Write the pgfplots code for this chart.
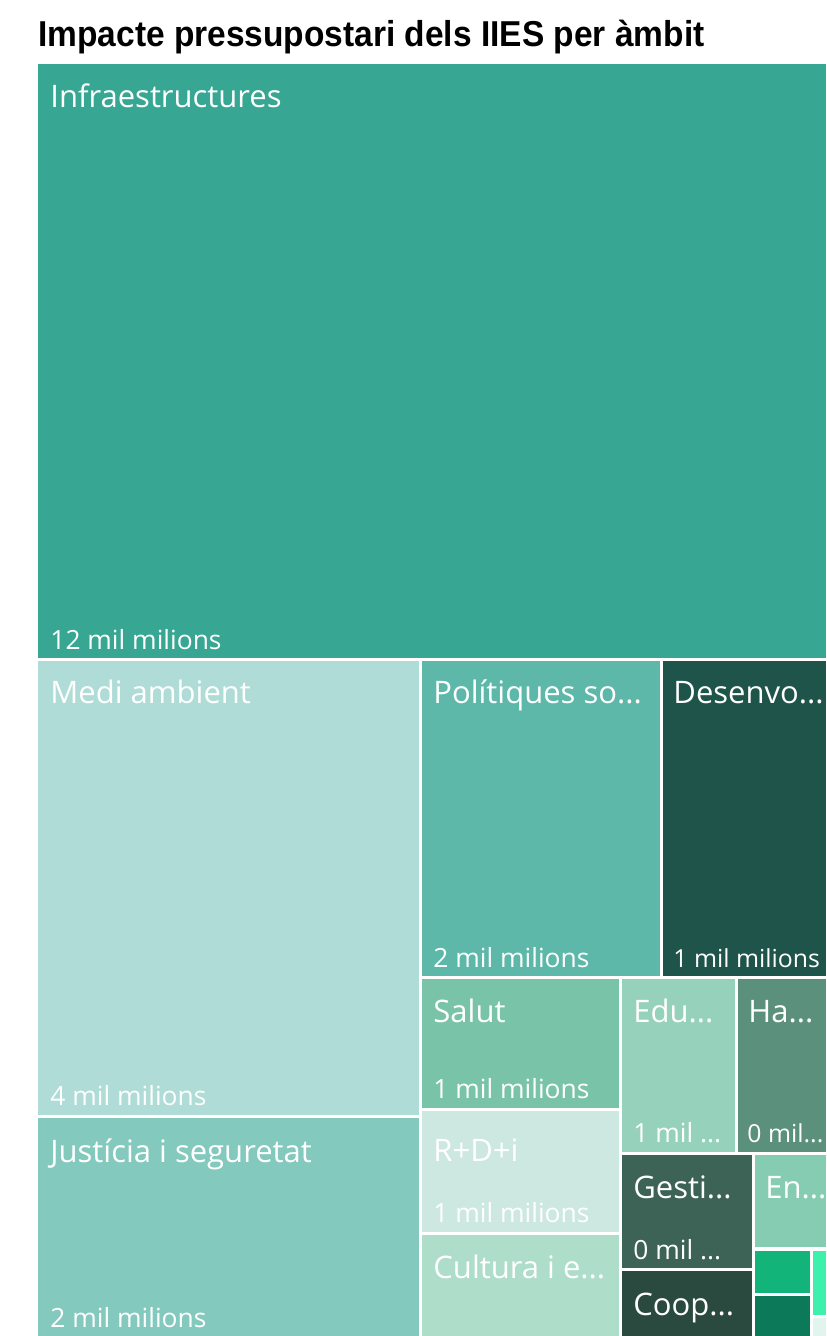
\documentclass[border=0pt]{standalone}
\usepackage{pgfplots}
\pgfplotsset{compat=1.18}
\usepackage{fontspec}
\setmainfont{Open Sans}
\newfontfamily\titlefont[FakeStretch=0.93]{Liberation Sans}
\definecolor{cInfra}{HTML}{37A794}
\definecolor{cMedi}{HTML}{AFDCD6}
\definecolor{cJust}{HTML}{84C9BE}
\definecolor{cPol}{HTML}{5DB8A9}
\definecolor{cDes}{HTML}{1E544A}
\definecolor{cSal}{HTML}{79C4A8}
\definecolor{cEdu}{HTML}{96D1BB}
\definecolor{cHa}{HTML}{5B907C}
\definecolor{cRDI}{HTML}{CCE8E0}
\definecolor{cCul}{HTML}{AEDDCA}
\definecolor{cGes}{HTML}{3C6355}
\definecolor{cCoop}{HTML}{2B4A3F}
\definecolor{cEn}{HTML}{86CCB2}
\definecolor{cG1}{HTML}{13B479}
\definecolor{cG2}{HTML}{0C7A59}
\definecolor{cG3}{HTML}{3DF0AB}
\definecolor{cG4}{HTML}{E1F5EE}
\begin{document}
\begin{tikzpicture}
\begin{axis}[x=0.5pt, y=0.5pt, y dir=reverse, xmin=0, xmax=826, ymin=0, ymax=1336,
  hide axis, clip=false, scale only axis]
\addplot[fill=cInfra, draw=none] coordinates {(38,64) (826,64) (826,658) (38,658)} --cycle;
\addplot[fill=cMedi, draw=none] coordinates {(38,661) (419,661) (419,1115) (38,1115)} --cycle;
\addplot[fill=cJust, draw=none] coordinates {(38,1118) (419,1118) (419,1336) (38,1336)} --cycle;
\addplot[fill=cPol, draw=none] coordinates {(422,661) (660,661) (660,976) (422,976)} --cycle;
\addplot[fill=cDes, draw=none] coordinates {(663,661) (826,661) (826,976) (663,976)} --cycle;
\addplot[fill=cSal, draw=none] coordinates {(422,979) (619,979) (619,1108) (422,1108)} --cycle;
\addplot[fill=cEdu, draw=none] coordinates {(622,979) (735,979) (735,1152) (622,1152)} --cycle;
\addplot[fill=cHa, draw=none] coordinates {(738,979) (826,979) (826,1152) (738,1152)} --cycle;
\addplot[fill=cRDI, draw=none] coordinates {(422,1111) (619,1111) (619,1232) (422,1232)} --cycle;
\addplot[fill=cCul, draw=none] coordinates {(422,1235) (619,1235) (619,1336) (422,1336)} --cycle;
\addplot[fill=cGes, draw=none] coordinates {(622,1155) (752,1155) (752,1268) (622,1268)} --cycle;
\addplot[fill=cCoop, draw=none] coordinates {(622,1271) (752,1271) (752,1336) (622,1336)} --cycle;
\addplot[fill=cEn, draw=none] coordinates {(755,1155) (826,1155) (826,1247) (755,1247)} --cycle;
\addplot[fill=cG1, draw=none] coordinates {(755,1251) (810,1251) (810,1293) (755,1293)} --cycle;
\addplot[fill=cG2, draw=none] coordinates {(755,1296) (810,1296) (810,1336) (755,1336)} --cycle;
\addplot[fill=cG3, draw=none] coordinates {(813,1251) (826,1251) (826,1315) (813,1315)} --cycle;
\addplot[fill=cG4, draw=none] coordinates {(813,1318) (826,1318) (826,1336) (813,1336)} --cycle;

\node[anchor=base west, inner sep=0pt, font=\titlefont\bfseries\fontsize{18}{18}\selectfont] at (axis cs:38,47) {Impacte pressupostari dels IIES per àmbit};

\tikzset{nm/.style={anchor=base west, inner sep=0pt, text=white, font=\fontsize{15.5}{16}\selectfont},
         vl/.style={anchor=base west, inner sep=0pt, text=white, font=\fontsize{13.2}{14}\selectfont}}
\node[nm] at (axis cs:50,108) {Infraestructures};
\node[vl] at (axis cs:50,649) {12 mil milions};
\node[nm] at (axis cs:50,703) {Medi ambient};
\node[vl] at (axis cs:50,1105) {4 mil milions};
\node[nm] at (axis cs:50,1162) {Justícia i seguretat};
\node[vl] at (axis cs:50,1327) {2 mil milions};
\node[nm] at (axis cs:433,703) {Polítiques so...};
\node[vl] at (axis cs:433,967) {2 mil milions};
\node[nm] at (axis cs:673,703) {Desenvo...};
\node[vl, font=\fontsize{12.4}{14}\selectfont] at (axis cs:673,967) {1 mil milions};
\node[nm] at (axis cs:433,1022) {Salut};
\node[vl] at (axis cs:433,1098) {1 mil milions};
\node[nm] at (axis cs:633,1022) {Edu...};
\node[vl] at (axis cs:633,1142) {1 mil ...};
\node[nm] at (axis cs:748,1022) {Ha...};
\node[vl, font=\fontsize{12.4}{14}\selectfont] at (axis cs:747,1142) {0 mil...};
\node[nm] at (axis cs:433,1161) {R+D+i};
\node[vl] at (axis cs:433,1222) {1 mil milions};
\node[nm] at (axis cs:433,1278) {Cultura i e...};
\node[nm] at (axis cs:633,1198) {Gesti...};
\node[vl] at (axis cs:633,1259) {0 mil ...};
\node[nm] at (axis cs:633,1315) {Coop...};
\node[nm] at (axis cs:765,1198) {En...};
\end{axis}
\pgfresetboundingbox
\path (0,0) rectangle (413pt,668pt);
\end{tikzpicture}
\end{document}
